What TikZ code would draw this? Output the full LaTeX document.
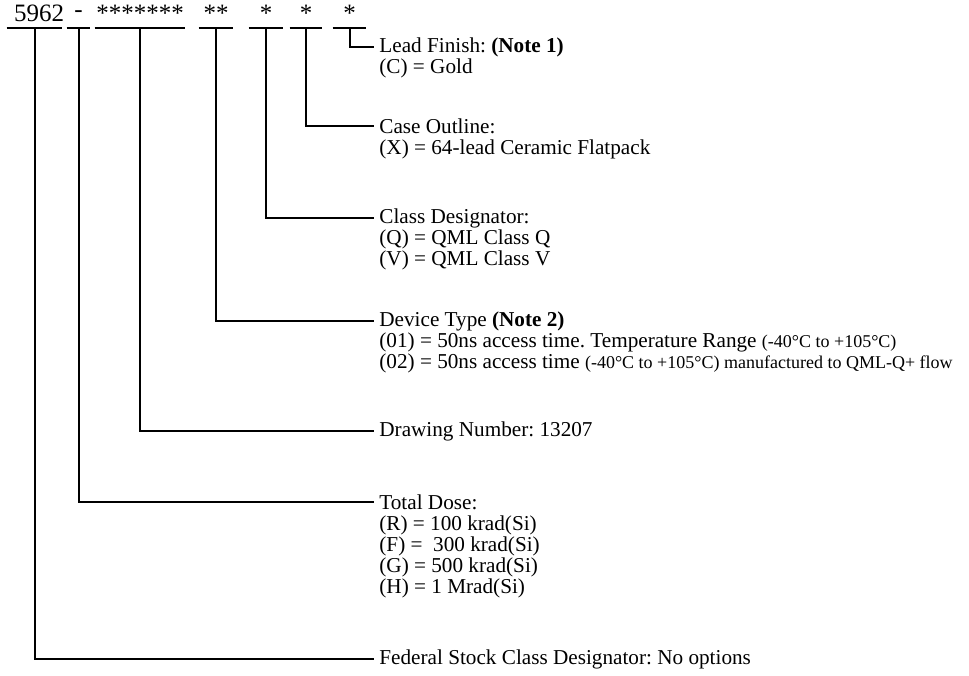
\documentclass[tikz,border=0pt]{standalone}
\usepackage{fontspec}
\setmainfont{Liberation Serif}
\usetikzlibrary{positioning, calc}
\frenchspacing
\tikzset{
  % one part of the ordering code, underlined
  code/.style={
    font=\fontsize{12.5}{13}\selectfont, anchor=south,
    inner xsep=0pt, inner ysep=1.5pt, minimum height=14pt
  },
  % a heading at the end of a leader line
  head/.style={
    font=\fontsize{10.6}{10.5}\selectfont, anchor=west,
    inner xsep=2.5pt, inner ysep=0pt
  },
  % the options listed under a heading (placed by the baseline of the last line)
  opts/.style={
    font=\fontsize{10.6}{10.5}\selectfont, anchor=base west, align=left,
    inner xsep=2.5pt, inner ysep=0pt
  },
  % leader lines
  lead/.style={draw=black, line width=1pt},
  rule/.style={draw=black, line width=1pt},
}
\newcommand{\temp}[1]{{\fontsize{9}{9}\selectfont #1}}
\def\ls{21}   % line spacing of the option lists

\begin{document}
\begin{tikzpicture}[x=0.5pt, y=-0.5pt]
\useasboundingbox (0,0) rectangle (969,675);

% ------------------------------- the code ----------------------------------
\node[code, minimum width=27.5pt] (fsc)  at (34.5,28)
      {\hspace*{2.25pt}5962\hspace*{-2.25pt}};
\node[code, minimum width=11.5pt] (dsh)  at (78.5,28) {-};
\node[code, minimum width=45pt]   (dwg)  at (140,28)  {*******};
\node[code, minimum width=17pt]   (dev)  at (216,28)  {**};
\node[code, minimum width=17pt]   (cls)  at (266,28)  {*};
\node[code, minimum width=16pt]   (cas)  at (306,28)  {*};
\node[code, minimum width=16.5pt] (fin)  at (349.5,28) {*};

\foreach \n in {fsc,dsh,dwg,dev,cls,cas,fin}
  \draw[rule] (\n.south west) -- (\n.south east);

% ------------------------------- the headings ------------------------------
\node[head] (finT) at (374,47)  {Lead Finish: \textbf{(Note 1)}};
\node[head] (casT) at (374,126) {Case Outline:};
\node[head] (clsT) at (374,218) {Class Designator:};
\node[head] (devT) at (374,321) {Device Type \textbf{(Note 2)}};
\node[head] (dwgT) at (374,431) {Drawing Number: 13207};
\node[head] (dshT) at (374,502) {Total Dose:};
\node[head] (fscT) at (374,659) {Federal Stock Class Designator: No options};

% ------------------------------- the options -------------------------------
\node[opts] (finO) at ($(finT.base west)+(0,\ls)$) {(C) = Gold};
\node[opts] (casO) at ($(casT.base west)+(0,\ls)$) {(X) = 64-lead Ceramic Flatpack};
\node[opts] (clsO) at ($(clsT.base west)+(0,2*\ls)$)
      {(Q) = QML Class Q\\(V) = QML Class V};
\node[opts] (devO) at ($(devT.base west)+(0,2*\ls)$)
      {(01) = 50ns access time. Temperature Range \temp{(-40°C to +105°C)}\\
       (02) = 50ns access time \temp{(-40°C to +105°C) manufactured to QML-Q+ flow}};
\node[opts] (dshO) at ($(dshT.base west)+(0,4*\ls)$)
      {(R) = 100 krad(Si)\\(F) = \ 300 krad(Si)\\(G) = 500 krad(Si)\\(H) = 1 Mrad(Si)};

% ------------------------------- leader lines ------------------------------
\draw[lead] (fin.south) |- (finT.west);
\draw[lead] (cas.south) |- (casT.west);
\draw[lead] (cls.south) |- (clsT.west);
\draw[lead] (dev.south) |- (devT.west);
\draw[lead] (dwg.south) |- (dwgT.west);
\draw[lead] (dsh.south) |- (dshT.west);
\draw[lead] (fsc.south) |- (fscT.west);

\end{tikzpicture}
\end{document}
